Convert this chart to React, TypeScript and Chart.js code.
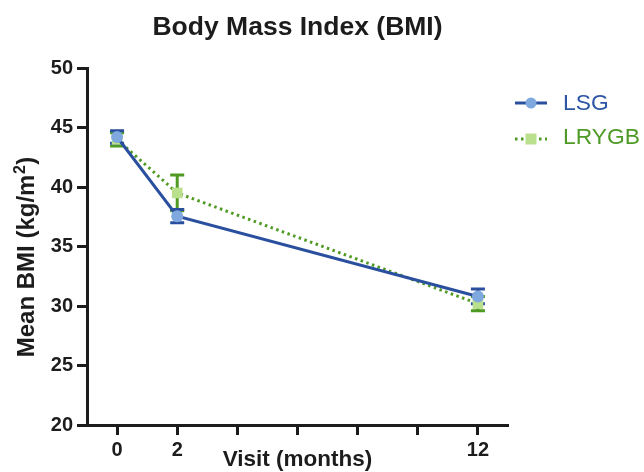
import React, { useEffect, useRef } from "react";
import { Chart, registerables } from "chart.js";

Chart.register(...registerables);

const visits = [0, 2, 12];
const xTickValues = [0, 2, 4, 6, 8, 10, 12];
const xTickLabels = ["0", "2", "", "", "", "", "12"];
const yTickValues = [20, 25, 30, 35, 40, 45, 50];

const lsgMean = [44.2, 37.55, 30.8];
const lsgErr = [0.52, 0.55, 0.62];
const lrygbMean = [44.0, 39.5, 30.2];
const lrygbErr = [0.55, 1.5, 0.6];

const seriesNames = ["LSG", "LRYGB"];
const chartTitle = "Body Mass Index (BMI)";
const yTitleMain = "Mean BMI (kg/m";
const yTitleSup = "2";
const yTitleEnd = ")";
const xTitle = "Visit (months)";

const BLUE = "#2a4f9f";
const BLUE_FILL = "#7fa8df";
const GREEN = "#4f9a22";
const GREEN_FILL = "#badf8d";
const INK = "#1c1c1c";
const FONT = "'Liberation Sans', Arial, sans-serif";

const errorBars = {
  id: "errorBars",
  beforeDatasetsDraw(chart: any) {
    const ctx = chart.ctx;
    const xs = chart.scales.x;
    const ys = chart.scales.y;
    const sets = [
      { mean: lrygbMean, err: lrygbErr, color: GREEN },
      { mean: lsgMean, err: lsgErr, color: BLUE },
    ];
    ctx.save();
    ctx.lineWidth = 3;
    for (const s of sets) {
      ctx.strokeStyle = s.color;
      visits.forEach((v, i) => {
        const x = xs.getPixelForValue(v);
        const y1 = ys.getPixelForValue(s.mean[i] + s.err[i]);
        const y2 = ys.getPixelForValue(s.mean[i] - s.err[i]);
        ctx.beginPath();
        ctx.moveTo(x, y1);
        ctx.lineTo(x, y2);
        ctx.moveTo(x - 7, y1);
        ctx.lineTo(x + 7, y1);
        ctx.moveTo(x - 7, y2);
        ctx.lineTo(x + 7, y2);
        ctx.stroke();
      });
    }
    ctx.restore();
  },
};

const textPlugin = {
  id: "textPlugin",
  afterDraw(chart: any) {
    const ctx = chart.ctx;
    const ca = chart.chartArea;
    ctx.save();
    ctx.fillStyle = INK;
    ctx.font = `bold 26.5px ${FONT}`;
    ctx.textAlign = "center";
    ctx.textBaseline = "middle";
    ctx.fillText(chartTitle, (ca.left + ca.right) / 2, 28);

    ctx.textAlign = "left";
    ctx.textBaseline = "alphabetic";
    const mainFont = `bold 24px ${FONT}`;
    const supFont = `bold 16px ${FONT}`;
    ctx.font = mainFont;
    const w1 = ctx.measureText(yTitleMain).width;
    const w3 = ctx.measureText(yTitleEnd).width;
    ctx.font = supFont;
    const w2 = ctx.measureText(yTitleSup).width;
    const total = w1 + w2 + w3 + 1;
    ctx.translate(34, 257);
    ctx.rotate(-Math.PI / 2);
    let x = -total / 2;
    ctx.font = mainFont;
    ctx.fillText(yTitleMain, x, 0);
    x += w1 + 0.5;
    ctx.font = supFont;
    ctx.fillText(yTitleSup, x, -9);
    x += w2 + 0.5;
    ctx.font = mainFont;
    ctx.fillText(yTitleEnd, x, 0);
    ctx.restore();

    const r = ca.right;
    const x1 = r + 7;
    const x2 = r + 39;
    const mx = (x1 + x2) / 2;
    const tx = r + 55;
    const ly1 = 103;
    const ly2 = 139;
    ctx.save();
    ctx.strokeStyle = BLUE;
    ctx.lineWidth = 3;
    ctx.beginPath();
    ctx.moveTo(x1, ly1);
    ctx.lineTo(x2, ly1);
    ctx.stroke();
    ctx.fillStyle = BLUE_FILL;
    ctx.beginPath();
    ctx.arc(mx, ly1, 5.5, 0, Math.PI * 2);
    ctx.fill();
    ctx.strokeStyle = GREEN;
    ctx.setLineDash([2.5, 3.5]);
    ctx.beginPath();
    ctx.moveTo(x1, ly2);
    ctx.lineTo(x2, ly2);
    ctx.stroke();
    ctx.setLineDash([]);
    ctx.fillStyle = GREEN_FILL;
    ctx.fillRect(mx - 5.5, ly2 - 5.5, 11, 11);
    ctx.font = `22.8px ${FONT}`;
    ctx.textBaseline = "middle";
    ctx.textAlign = "left";
    ctx.fillStyle = "#2d55a5";
    ctx.fillText(seriesNames[0], tx, ly1 + 1);
    ctx.fillStyle = "#4e9a26";
    ctx.fillText(seriesNames[1], tx, ly2 - 1);
    ctx.restore();
  },
};

export default function App() {
  const ref = useRef<HTMLCanvasElement | null>(null);

  useEffect(() => {
    if (!ref.current) return;
    const chart = new Chart(ref.current, {
      type: "line",
      data: {
        datasets: [
          {
            label: seriesNames[0],
            data: visits.map((v, i) => ({ x: v, y: lsgMean[i] })),
            borderColor: BLUE,
            borderWidth: 3,
            backgroundColor: BLUE_FILL,
            pointBackgroundColor: BLUE_FILL,
            pointBorderWidth: 0,
            pointRadius: 6,
            pointStyle: "circle",
            tension: 0,
          },
          {
            label: seriesNames[1],
            data: visits.map((v, i) => ({ x: v, y: lrygbMean[i] })),
            borderColor: GREEN,
            borderWidth: 3,
            borderDash: [2.5, 3.5],
            backgroundColor: GREEN_FILL,
            pointBackgroundColor: GREEN_FILL,
            pointBorderWidth: 0,
            pointRadius: 7.5,
            pointStyle: "rect",
            tension: 0,
          },
        ],
      },
      options: {
        animation: false,
        responsive: true,
        maintainAspectRatio: false,
        layout: { padding: { top: 68, right: 136, bottom: 0, left: 0 } },
        plugins: {
          legend: { display: false },
          tooltip: { enabled: false },
          title: { display: false },
        },
        scales: {
          x: {
            type: "linear",
            min: -1,
            max: 13,
            afterBuildTicks: (scale: any) => {
              scale.ticks = xTickValues.map((v) => ({ value: v }));
            },
            afterFit: (scale: any) => {
              scale.height = 47;
            },
            ticks: {
              color: INK,
              font: { family: FONT, size: 20, weight: "bold" },
              padding: 3,
              maxRotation: 0,
              autoSkip: false,
              callback: (val: any) => {
                const idx = xTickValues.indexOf(Number(val));
                return idx >= 0 ? xTickLabels[idx] : "";
              },
            },
            grid: {
              display: true,
              drawOnChartArea: false,
              drawTicks: true,
              tickLength: 10,
              tickWidth: 3,
              tickColor: INK,
            },
            border: { display: true, width: 3, color: INK },
            title: {
              display: true,
              text: xTitle,
              color: INK,
              font: { family: FONT, size: 22.5, weight: "bold" },
              padding: { top: 0, bottom: -1 },
            },
          },
          y: {
            type: "linear",
            min: 20,
            max: 50,
            afterBuildTicks: (scale: any) => {
              scale.ticks = yTickValues.map((v) => ({ value: v }));
            },
            afterFit: (scale: any) => {
              scale.width = 87;
            },
            ticks: {
              color: INK,
              font: { family: FONT, size: 20, weight: "bold" },
              padding: 4,
            },
            grid: {
              display: true,
              drawOnChartArea: false,
              drawTicks: true,
              tickLength: 10,
              tickWidth: 3,
              tickColor: INK,
            },
            border: { display: true, width: 3, color: INK },
            title: { display: false },
          },
        },
      },
      plugins: [errorBars, textPlugin],
    } as any);
    return () => chart.destroy();
  }, []);

  return (
    <div style={{ position: "fixed", left: 0, top: 0, width: 644, height: 472, background: "#fff" }}>
      <canvas ref={ref} />
    </div>
  );
}
